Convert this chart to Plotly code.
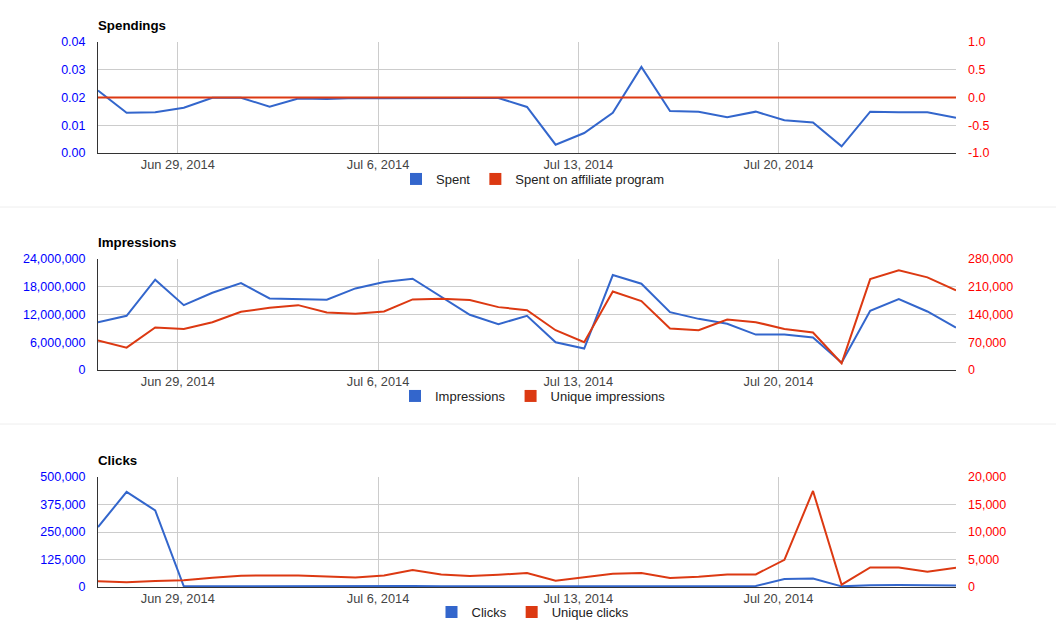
import pandas as pd
import plotly.graph_objects as go

# Jours du rapport (points quotidiens)
dates = pd.date_range("2014-06-26 05:00", periods=31, freq="D")

# Spendings
spent = [0.0225, 0.0145, 0.0147, 0.0163, 0.0199, 0.0199, 0.0167, 0.0196, 0.0195, 0.0198,
         0.0197, 0.0198, 0.0198, 0.0198, 0.0198, 0.0166, 0.0030, 0.0072, 0.0145, 0.0310,
         0.0151, 0.0149, 0.0129, 0.0149, 0.0118, 0.0110, 0.0024, 0.0149, 0.0147, 0.0147,
         0.0127]
spent_affiliate = [0, 0, 0, 0, 0, 0, 0, 0, 0, 0, 0, 0, 0, 0, 0, 0,
                   0, 0, 0, 0, 0, 0, 0, 0, 0, 0, 0, 0, 0, 0, 0]

# Impressions
impressions = [10340000, 11710000, 19520000, 14020000, 16700000, 18800000, 15470000,
               15330000, 15180000, 17640000, 19010000, 19730000, 15800000, 11930000,
               9900000, 11710000, 6000000, 4630000, 20530000, 18650000, 12510000,
               11060000, 9980000, 7660000, 7660000, 7010000, 1590000, 12800000,
               15330000, 12650000, 9180000]
unique_impressions = [74200, 56500, 107100, 103700, 120600, 146700, 156900, 163600,
                      145100, 141700, 147600, 178000, 179600, 176300, 158600, 151000,
                      100400, 70000, 198200, 173700, 104600, 100400, 127300, 120600,
                      103700, 94500, 16900, 229400, 251300, 233600, 200700]

# Clicks
clicks = [272600, 432200, 347900, 3000, 3000, 3500, 4000, 3500, 3000, 3000, 3500,
          4000, 3500, 3500, 3500, 4000, 3000, 3500, 4000, 4000, 3500, 3500, 3500,
          5000, 36000, 39000, 3000, 8000, 9000, 6500, 6500]
unique_clicks = [1024, 843, 1084, 1205, 1687, 2048, 2108, 2108, 1928, 1747, 2108,
                 3072, 2289, 1988, 2229, 2530, 1145, 1807, 2410, 2530, 1627, 1867,
                 2289, 2289, 4940, 17470, 422, 3554, 3554, 2771, 3494]

BLUE = "#3366cc"
RED = "#dc3912"
FONT = "Liberation Sans, Arial, sans-serif"
FS = 12.5

W, H = 1056, 633
x_dom = [98 / W, 956 / W]

# (titre, haut, bas, série gauche, série droite, noms, axe gauche, axe droit, y légende)
panneaux = [
    ("Spendings", 42, 153, spent, spent_affiliate, ("Spent", "Spent on affiliate program"),
     dict(range=[0, 0.04], dtick=0.01, tickformat=".2f"),
     dict(range=[-1, 1], tickvals=[1, 0.5, 0, -0.5, -1],
          ticktext=["1.0", "0.5", "0.0", "-0.5", "-1.0"]),
     179),
    ("Impressions", 259, 370, impressions, unique_impressions, ("Impressions", "Unique impressions"),
     dict(range=[0, 24000000], dtick=6000000, tickformat=",d"),
     dict(range=[0, 280000], dtick=70000, tickformat=",d"),
     396),
    ("Clicks", 477, 587, clicks, unique_clicks, ("Clicks", "Unique clicks"),
     dict(range=[0, 500000], dtick=125000, tickformat=",d"),
     dict(range=[0, 20000], dtick=5000, tickformat=",d"),
     612),
]

fig = go.Figure()
layout = dict(
    width=W, height=H,
    margin=dict(l=0, r=0, t=0, b=0, autoexpand=False),
    paper_bgcolor="white", plot_bgcolor="white",
    font=dict(family=FONT, size=FS, color="#222222"),
    annotations=[], shapes=[],
)

for i, (titre, haut, bas, gauche, droite, noms, ax_g, ax_d, y_leg) in enumerate(panneaux):
    n = i + 1
    xname = "x" if n == 1 else f"x{n}"
    yl = 2 * i + 1
    yr = 2 * i + 2
    yl_name = "y" if yl == 1 else f"y{yl}"
    yr_name = f"y{yr}"
    leg = "legend" if n == 1 else f"legend{n}"
    dom = [1 - bas / H, 1 - haut / H]

    fig.add_trace(go.Scatter(x=dates, y=gauche, mode="lines", line=dict(color=BLUE, width=2),
                             xaxis=xname, yaxis=yl_name, showlegend=False, hoverinfo="skip"))
    fig.add_trace(go.Scatter(x=dates, y=droite, mode="lines", line=dict(color=RED, width=2),
                             xaxis=xname, yaxis=yr_name, showlegend=False, hoverinfo="skip"))
    # carrés de légende
    for nom, coul in zip(noms, (BLUE, RED)):
        fig.add_trace(go.Scatter(x=[None], y=[None], mode="markers", name=nom,
                                 marker=dict(symbol="square", size=12, color=coul),
                                 xaxis=xname, yaxis=yl_name, legend=leg))

    layout["xaxis" if n == 1 else f"xaxis{n}"] = dict(
        domain=x_dom, anchor=yl_name, type="date", automargin=False,
        range=[dates[0], dates[-1]],
        tick0="2014-06-29", dtick=7 * 86400000, tickformat="%b %-d, %Y",
        showgrid=True, gridcolor="#cccccc", showline=True, linecolor="#333333",
        ticks="", tickfont=dict(color="#444444", size=12.8), fixedrange=True,
    )
    layout["yaxis" if yl == 1 else f"yaxis{yl}"] = dict(
        domain=dom, anchor=xname, side="left", automargin=False,
        showgrid=True, gridcolor="#cccccc", zeroline=False,
        showline=True, linecolor="#333333", ticks="", ticklabelstandoff=9,
        tickfont=dict(color="#0000ff", size=FS), fixedrange=True, **ax_g,
    )
    layout[f"yaxis{yr}"] = dict(
        overlaying=yl_name, anchor=xname, side="right", automargin=False,
        showgrid=False, zeroline=False, showline=False, ticks="", ticklabelstandoff=11,
        tickfont=dict(color="#ff0000", size=FS), fixedrange=True, **ax_d,
    )
    layout[leg] = dict(
        orientation="h", x=533 / W, xanchor="center", y=1 - y_leg / H, yanchor="middle",
        font=dict(size=13, color="#222222"), bgcolor="rgba(0,0,0,0)",
        itemwidth=30, tracegroupgap=0,
        itemclick=False, itemdoubleclick=False,
    )
    layout["annotations"].append(dict(
        text=f"<b>{titre}</b>", xref="paper", yref="paper",
        x=96 / W, y=1 - (haut - 17) / H, xanchor="left", yanchor="middle",
        showarrow=False, font=dict(size=13.3, color="#000000"),
    ))

# séparateurs entre les graphiques
for y_sep in (207, 424):
    layout["shapes"].append(dict(type="line", xref="paper", yref="paper",
                                 x0=0, x1=1, y0=1 - y_sep / H, y1=1 - y_sep / H,
                                 line=dict(color="#eeeeee", width=1)))

fig.update_layout(**layout)
fig.write_html("out.html", config={"displayModeBar": False},
               post_script="document.body.style.margin='0';document.body.style.padding='0';")
